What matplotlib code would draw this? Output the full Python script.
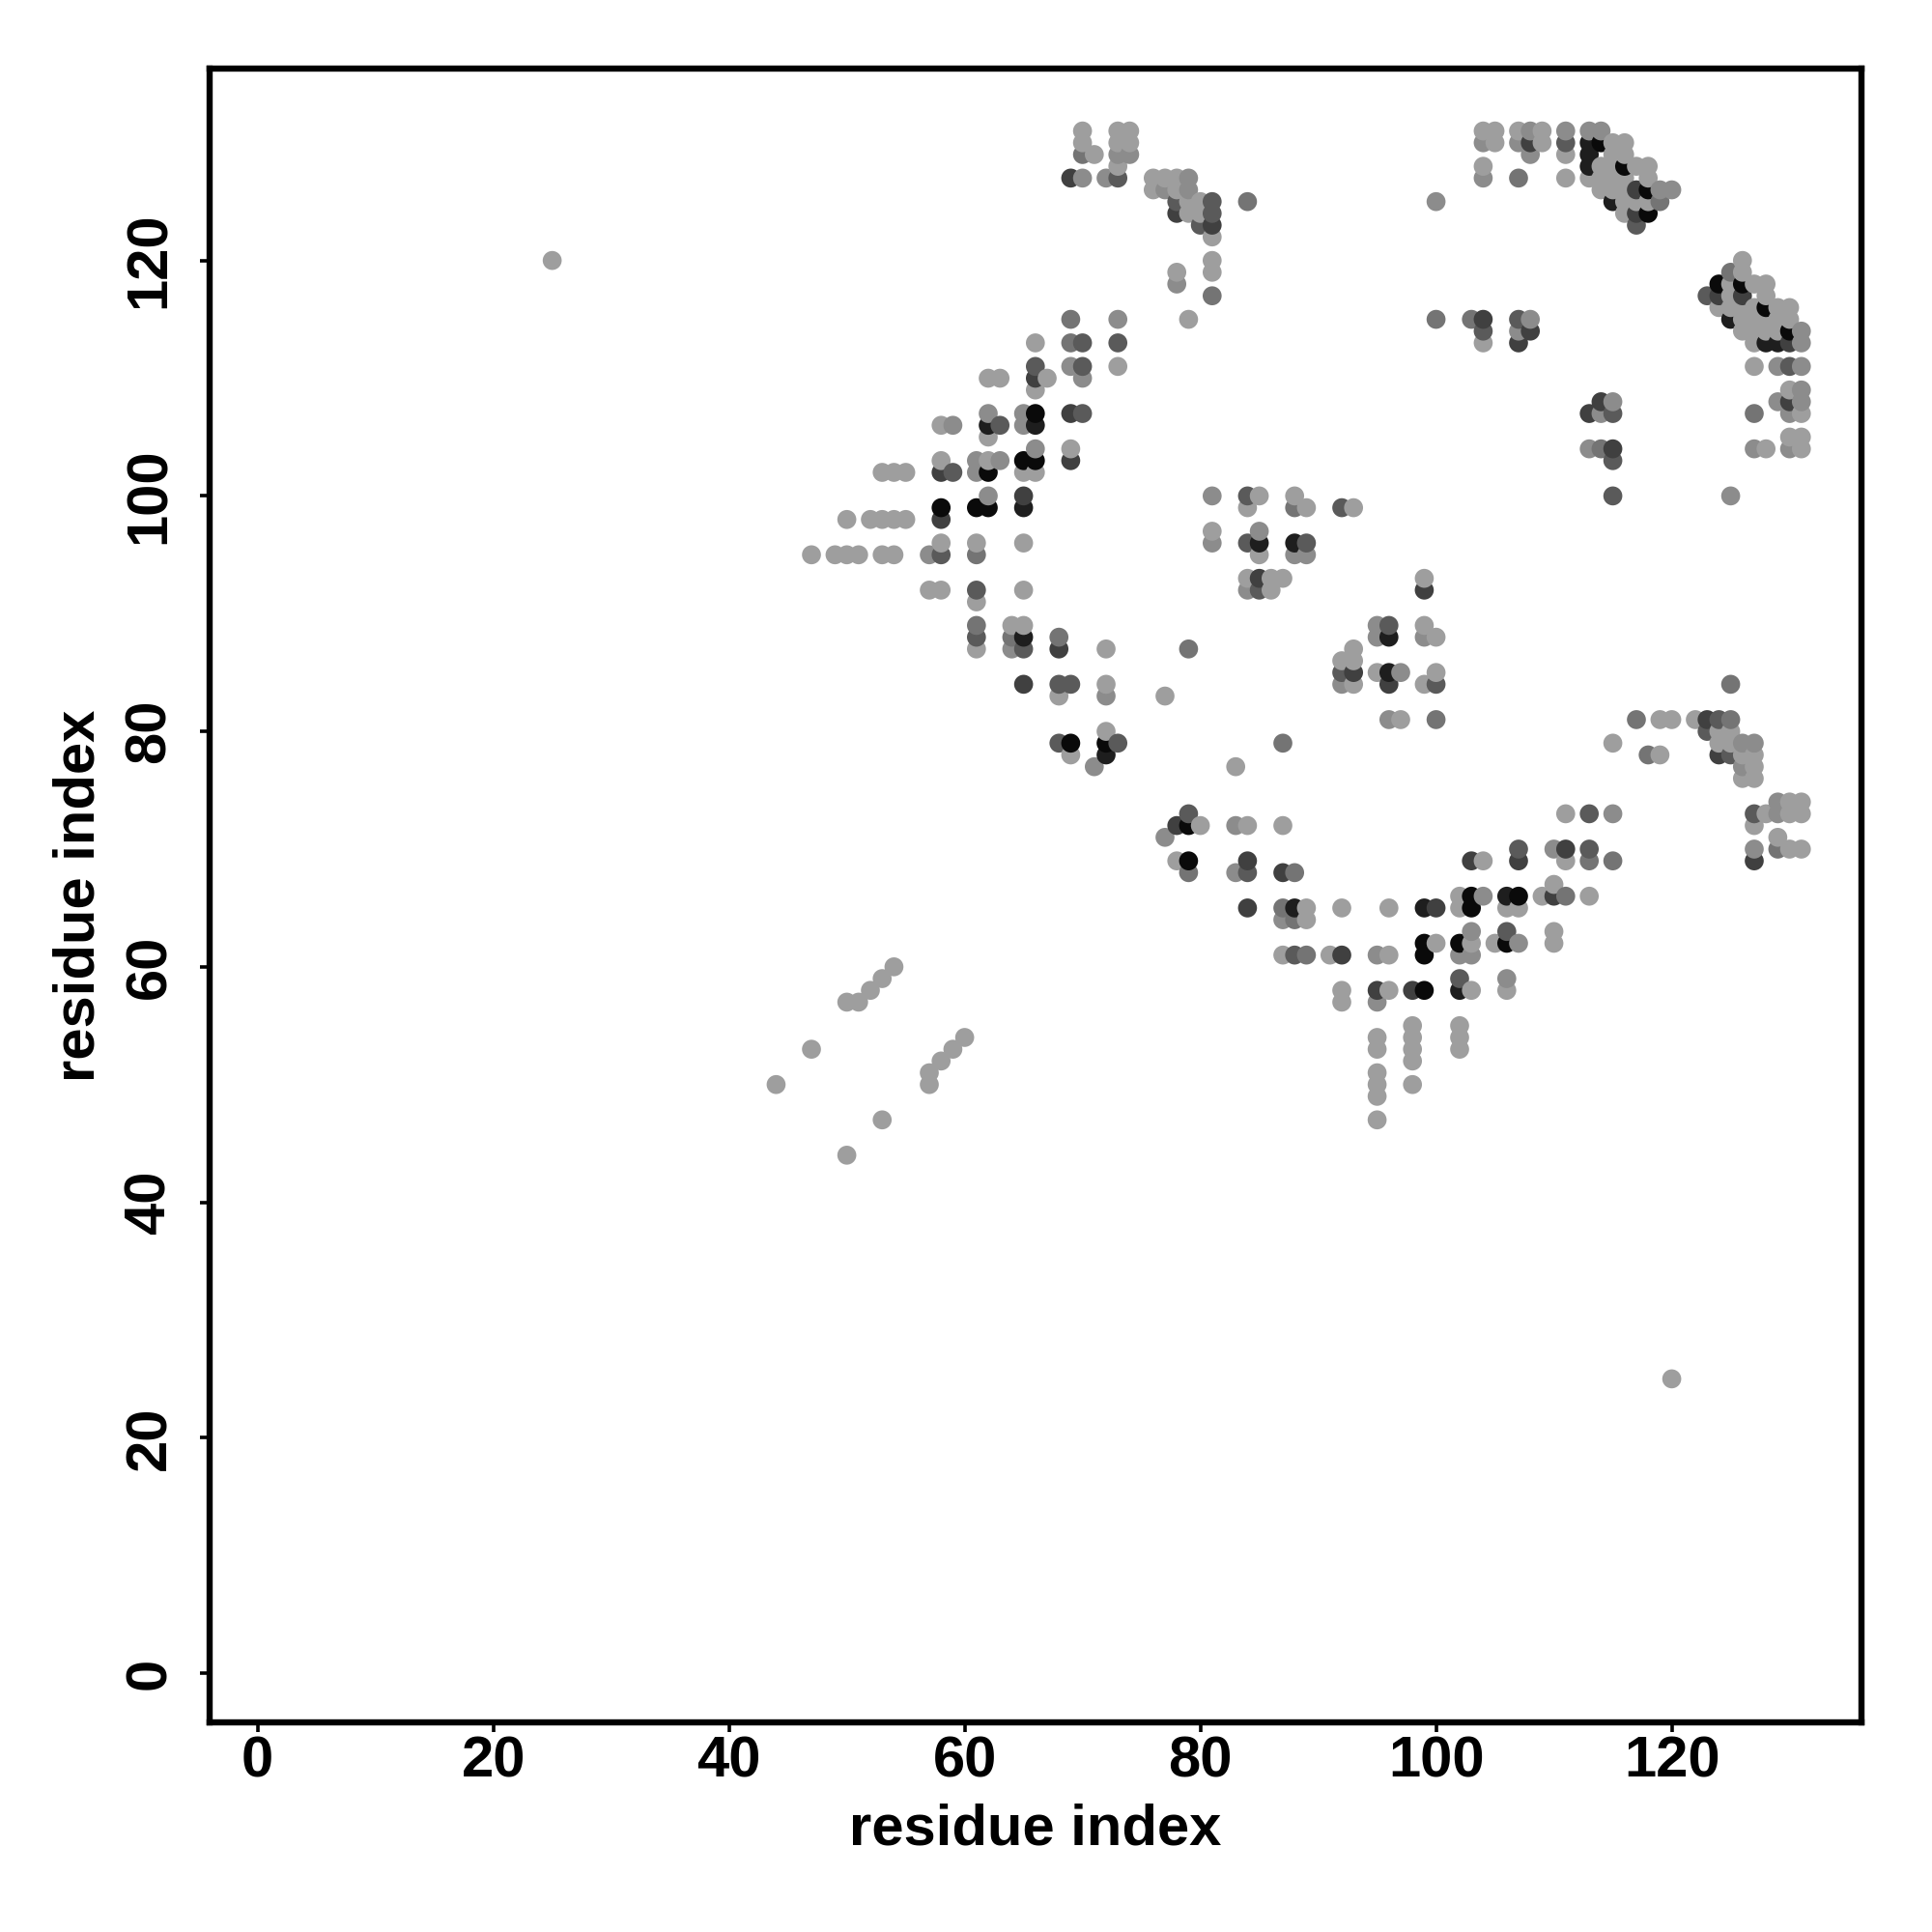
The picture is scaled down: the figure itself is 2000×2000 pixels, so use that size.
import matplotlib
matplotlib.use('Agg')
import matplotlib.pyplot as plt
import pandas as pd

plt.rcParams['font.family'] = ['Liberation Sans', 'DejaVu Sans']
plt.rcParams['font.weight'] = 'bold'

# grey level of each shade letter, K = darkest, L = lightest
grey_levels = {'K': '#0a0a0a', 'V': '#1e1e1e', 'D': '#404040', 'S': '#5a5a5a',
               'M': '#747474', 'G': '#8c8c8c', 'L': '#9e9e9e'}

# one entry per row of the contact map
rows = [131, 130, 129, 128, 127, 126, 125, 124, 123, 122, 120, 119, 118, 117, 116, 115,
        114, 113, 111, 110, 109, 108, 107, 106, 105, 104, 103, 102, 100, 99, 98, 97, 96,
        95, 93, 92, 91, 89, 88, 87, 86, 85, 84, 83, 81, 80, 79, 78, 77, 76, 74, 73, 72,
        71, 70, 69, 68, 67, 66, 65, 64, 63, 62, 61, 60, 59, 58, 57, 55, 54, 53, 52, 51,
        50, 49, 47, 44, 25]
cols = [
    [70, 73, 74, 104, 105, 107, 108, 109, 111, 113, 114],
    [70, 73, 74, 104, 105, 107, 108, 109, 111, 113, 114, 115, 116],
    [70, 71, 73, 74, 108, 111, 113, 115, 116],
    [73, 104, 113, 114, 115, 116, 117, 118],
    [69, 70, 72, 73, 76, 77, 78, 79, 104, 107, 111, 113, 114, 115, 116, 118],
    [76, 77, 78, 79, 114, 115, 116, 117, 118, 119, 120],
    [78, 79, 80, 81, 84, 100, 115, 116, 117, 118, 119],
    [78, 79, 80, 81, 116, 117, 118],
    [80, 81, 117],
    [81],
    [25, 81, 126],
    [78, 81, 125, 126],
    [78, 124, 125, 126, 127, 128],
    [81, 123, 124, 125, 126, 128],
    [124, 125, 126, 127, 128, 129, 130],
    [69, 73, 79, 100, 103, 104, 107, 108, 125, 126, 127, 128, 129, 130],
    [104, 107, 108, 126, 127, 128, 129, 130, 131],
    [66, 69, 70, 73, 104, 107, 127, 128, 129, 130, 131],
    [66, 69, 70, 73, 127, 129, 130, 131],
    [62, 63, 66, 67, 70],
    [66, 130, 131],
    [114, 115, 129, 130, 131],
    [62, 65, 66, 69, 70, 113, 114, 115, 127, 130, 131],
    [58, 59, 62, 63, 65, 66],
    [62, 130, 131],
    [66, 69, 113, 114, 115, 127, 128, 130, 131],
    [58, 61, 62, 63, 65, 66, 69, 115],
    [53, 54, 55, 58, 59, 61, 62, 65, 66],
    [62, 65, 81, 84, 85, 88, 115, 125],
    [58, 61, 62, 65, 84, 88, 89, 92, 93],
    [50, 52, 53, 54, 55, 58],
    [81, 85],
    [58, 61, 65, 81, 84, 85, 88, 89],
    [47, 49, 50, 51, 53, 54, 57, 58, 61, 85, 88, 89],
    [84, 85, 86, 87, 99],
    [57, 58, 61, 65, 84, 85, 86, 99],
    [61],
    [61, 64, 65, 95, 96, 99],
    [61, 64, 65, 68, 95, 96, 99, 100],
    [61, 64, 65, 68, 72, 79, 93],
    [92, 93],
    [92, 93, 95, 96, 97, 100],
    [65, 68, 69, 72, 92, 93, 96, 99, 100, 125],
    [68, 72, 77],
    [96, 97, 100, 117, 119, 120, 122, 123, 124, 125],
    [72, 123, 124, 125],
    [68, 69, 72, 73, 87, 115, 124, 125, 126, 127],
    [69, 72, 118, 119, 124, 125, 126, 127],
    [71, 83, 126, 127],
    [126, 127],
    [129, 130, 131],
    [79, 111, 113, 115, 127, 128, 129, 130, 131],
    [78, 79, 80, 83, 84, 87, 127],
    [77, 129],
    [107, 110, 111, 113, 127, 129, 130, 131],
    [78, 79, 84, 103, 104, 107, 111, 113, 115, 127],
    [79, 83, 84, 87, 88],
    [110],
    [102, 103, 104, 106, 107, 109, 110, 111, 113],
    [84, 87, 88, 89, 92, 96, 99, 100, 102, 103, 106, 107],
    [87, 88, 89],
    [103, 106, 110],
    [99, 100, 102, 103, 105, 106, 107, 110],
    [87, 88, 89, 91, 92, 95, 96, 99, 102, 103],
    [54],
    [53, 102, 106],
    [52, 92, 95, 96, 98, 99, 102, 103, 106],
    [50, 51, 92, 95],
    [98, 102],
    [60, 95, 98, 102],
    [47, 59, 95, 98, 102],
    [58, 98],
    [57, 95],
    [44, 57, 95, 98],
    [95],
    [53, 95],
    [50],
    [120],
]
shades = [
    'LLLLLLGLGGG',
    'LLLGLGDLSVKLL',
    'MLGGGLVLL',
    'LLVLLKLL',
    'DGGSLLLGGMLLLLLL',
    'LGLGLLLDKGG',
    'SLLSMGVLLLM',
    'DLLSLDK',
    'SDS',
    'L',
    'LLL',
    'LLML',
    'GKLKLL',
    'MSDLDL',
    'LLLLKLL',
    'MGLMMDSGVLLLLL',
    'SGDLLLLKG',
    'LMSSLDLVVDG',
    'SGSLLGSG',
    'LLDLG',
    'LLG',
    'DGGDG',
    'GGKDSDGSMGL',
    'LGVSGV',
    'LLL',
    'GLGMDGLGL',
    'LGLGKKDS',
    'LLLDSGKLL',
    'GDGSLLSG',
    'KKKVLMLSL',
    'LLLLLD',
    'LG',
    'LLLGSVVS',
    'LLLLLLGSMLGG',
    'LDLLL',
    'LLSLGSLD',
    'L',
    'MLLGSL',
    'SMVMGVGL',
    'LGSDLML',
    'LL',
    'SDLVGL',
    'DSSLGLDLSM',
    'LGL',
    'GLMMLLLDSM',
    'LSLL',
    'SKKSMLLLGG',
    'LVMLDSLL',
    'GLGL',
    'LL',
    'GLL',
    'SLSGSLGLL',
    'DKLGLLL',
    'GL',
    'SGDSGMLL',
    'LKDDLDLMMD',
    'MGSDM',
    'L',
    'LKGVKLDML',
    'DMVLLLVDLKLL',
    'GML',
    'GSL',
    'KLKLLKGL',
    'LSMLDGLKGG',
    'L',
    'LSG',
    'LLDLDKVLL',
    'LLLG',
    'LL',
    'LLLL',
    'LLLLL',
    'LL',
    'LL',
    'LLLL',
    'L',
    'LL',
    'L',
    'L',
]
x_ticks = [0, 20, 40, 60, 80, 100, 120]
y_ticks = [0, 20, 40, 60, 80, 100, 120]

records = []
for row, row_cols, row_shades in zip(rows, cols, shades, strict=True):
    for col, shade in zip(row_cols, row_shades, strict=True):
        records.append((col, row, grey_levels[shade]))
df = pd.DataFrame(records, columns=['x', 'y', 'grey'])
# later residues paint over earlier ones
df = df.sort_values(['x', 'y'])

fig = plt.figure(figsize=(10, 10), dpi=200)
ax = fig.add_axes([217 / 2000, 1 - 1783 / 2000, 1710 / 2000, 1712 / 2000])
ax.scatter(df['x'], df['y'], c=df['grey'], s=50, linewidths=0, zorder=3)

ax.set_xlim(-4.07, 136.1)
ax.set_ylim(-4.18, 136.3)
ax.set_xticks(x_ticks)
ax.set_yticks(y_ticks)
for spine in ax.spines.values():
    spine.set_linewidth(2.3)
ax.tick_params(axis='x', length=3.5, width=1.3, labelsize=21.5, pad=1.3)
ax.tick_params(axis='y', length=3.5, width=1.3, labelsize=21.5, pad=8.7, labelrotation=90)
for label in ax.get_yticklabels():
    label.set_verticalalignment('center')
    label.set_fontweight('bold')
for label in ax.get_xticklabels():
    label.set_fontweight('bold')

ax.set_xlabel('residue index', fontsize=21.5, fontweight='bold')
ax.set_ylabel('residue index', fontsize=21.5, fontweight='bold')
ax.xaxis.set_label_coords(0.5, -0.049)
ax.yaxis.set_label_coords(-0.063, 0.5)

fig.savefig('out.png', dpi=200)
